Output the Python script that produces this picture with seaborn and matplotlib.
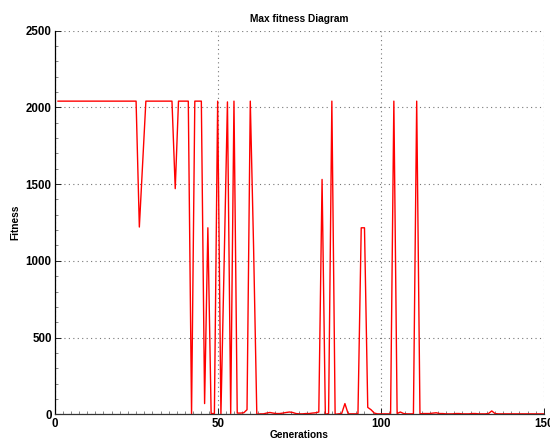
import matplotlib
matplotlib.use("Agg")
import matplotlib.pyplot as plt
from matplotlib.ticker import MultipleLocator
import seaborn as sns
import pandas as pd

generations = list(range(1, 151))
max_fitness = [
    # 1-25
    2040, 2040, 2040, 2040, 2040, 2040, 2040, 2040, 2040, 2040,
    2040, 2040, 2040, 2040, 2040, 2040, 2040, 2040, 2040, 2040,
    2040, 2040, 2040, 2040, 2040,
    # 26-40
    1220, 1630, 2040, 2040, 2040, 2040, 2040, 2040, 2040, 2040,
    2040, 1470, 2040, 2040, 2040,
    # 41-60
    2040, 0, 2040, 2040, 2040, 70, 1215, 5, 5, 2040,
    0, 1000, 2035, 5, 2040, 8, 8, 10, 30, 2040,
    # 61-80
    1100, 0, 3, 3, 8, 12, 8, 5, 5, 8,
    12, 15, 12, 5, 3, 3, 5, 5, 8, 10,
    # 81-100
    15, 1530, 0, 5, 2040, 0, 3, 5, 70, 3,
    3, 3, 3, 1215, 1215, 45, 30, 8, 3, 3,
    # 101-120
    3, 3, 3, 2040, 5, 15, 5, 3, 3, 3,
    2040, 3, 5, 5, 5, 8, 10, 5, 5, 3,
    # 121-150
    3, 3, 5, 5, 3, 3, 3, 5, 5, 3,
    3, 3, 5, 22, 5, 3, 3, 3, 3, 3,
    3, 3, 3, 3, 3, 3, 3, 3, 3, 3,
]
x_ticks = [0, 50, 100, 150]
y_ticks = [0, 500, 1000, 1500, 2000, 2500]

df = pd.DataFrame({"Generations": generations, "Fitness": max_fitness})

sns.set_style("white")
plt.rcParams["font.family"] = ["Liberation Sans", "DejaVu Sans"]
plt.rcParams["font.weight"] = "bold"
plt.rcParams["text.color"] = "black"
plt.rcParams["axes.labelcolor"] = "black"
plt.rcParams["xtick.color"] = "black"
plt.rcParams["ytick.color"] = "black"

fig = plt.figure(figsize=(5.5, 4.41), dpi=100)
ax = fig.add_axes([0.0991, 0.0605, 0.8899, 0.8703])

sns.lineplot(data=df, x="Generations", y="Fitness", ax=ax,
             color="#ff0000", linewidth=1.0, estimator=None)

ax.set_xlim(0, 150)
ax.set_ylim(0, 2500)
ax.set_xticks(x_ticks)
ax.set_yticks(y_ticks)
ax.set_xticklabels([str(v) for v in x_ticks], fontsize=8.3,
                   fontweight="bold", color="black")
ax.set_yticklabels([str(v) for v in y_ticks], fontsize=8.3,
                   fontweight="bold", color="black")
ax.xaxis.set_minor_locator(MultipleLocator(2.5))
ax.yaxis.set_minor_locator(MultipleLocator(100))
ax.tick_params(which="major", direction="in", length=4, width=0.7,
               color="#222222", pad=2, labelcolor="black")
ax.tick_params(axis="x", which="major", pad=3)
ax.tick_params(which="minor", direction="in", length=2, width=0.5,
               color="#555555")
ax.tick_params(which="both", top=False, right=False, bottom=True, left=True)

ax.grid(True, which="major", color="#777777", linestyle=(0, (1, 3)),
        linewidth=0.8)

for side in ["top", "right"]:
    ax.spines[side].set_visible(False)
ax.spines["left"].set_color("black")
ax.spines["left"].set_linewidth(0.9)
ax.spines["bottom"].set_color("#333333")
ax.spines["bottom"].set_linewidth(0.9)

ax.set_title("Max fitness Diagram", fontsize=7.3, fontweight="bold", pad=6,
             color="black")
ax.set_xlabel("Generations", fontsize=7.3, fontweight="bold", labelpad=0,
              color="black")
ax.set_ylabel("Fitness", fontsize=7.3, fontweight="bold", labelpad=4,
              color="black")

fig.savefig("out.png", dpi=100)
